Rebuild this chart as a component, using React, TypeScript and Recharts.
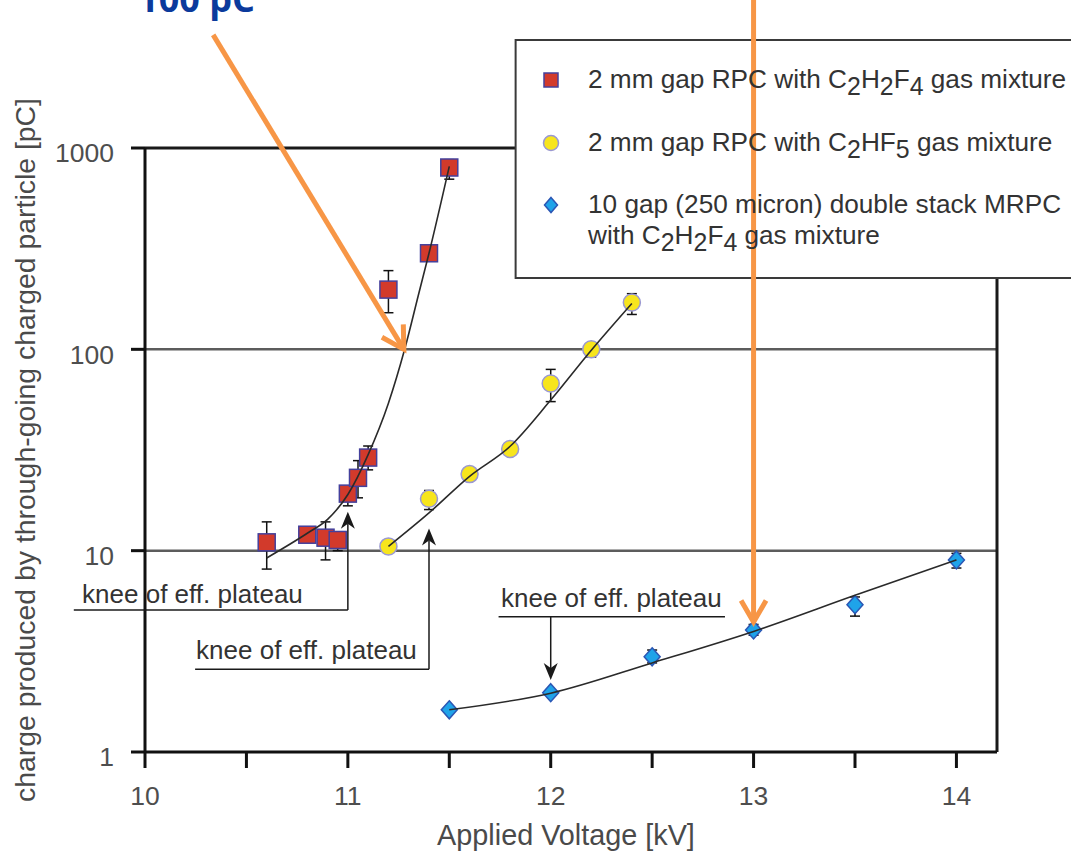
import React from 'react';
import {
  ComposedChart,
  Scatter,
  Line,
  XAxis,
  YAxis,
  ErrorBar,
  ReferenceLine,
  ReferenceArea,
  ReferenceDot,
  Legend,
} from 'recharts';

// ---------- data ----------
// 2 mm gap RPC, C2H2F4
const redVoltage = [10.6, 10.8, 10.89, 10.95, 11.0, 11.05, 11.1, 11.2, 11.4, 11.5];
const redCharge = [11, 12, 11.6, 11.3, 19.2, 23, 29, 198, 300, 800];
const redLow = [8.1, 12, 9.0, 10.0, 16.7, 18.3, 25.2, 152, 300, 700];
const redHigh = [13.9, 12, 13.9, 11.3, 19.2, 28, 33.1, 246, 300, 875];

// 2 mm gap RPC, C2HF5
const yellowVoltage = [11.2, 11.4, 11.6, 11.8, 12.0, 12.2, 12.4];
const yellowCharge = [10.5, 18.1, 24, 32, 67.7, 100, 171];
const yellowLow = [10.5, 16.0, 24, 32, 55, 91.6, 149];
const yellowHigh = [10.5, 19.9, 24, 32, 79.5, 107, 189];

// 10 gap double stack MRPC, C2H2F4
const blueVoltage = [11.5, 12.0, 12.5, 13.0, 13.5, 14.0];
const blueCharge = [1.62, 1.97, 2.97, 4.04, 5.39, 9.0];
const blueLow = [1.62, 1.97, 2.77, 3.8, 4.73, 8.2];
const blueHigh = [1.62, 1.97, 3.21, 4.3, 5.89, 9.7];

// fitted curves
const redFitVoltage = [10.6, 10.8, 10.9, 11.0, 11.1, 11.2, 11.28, 11.35, 11.4, 11.5];
const redFitCharge = [9.2, 12.2, 14.3, 19, 30, 54, 100, 190, 300, 810];
const yellowFitVoltage = [11.2, 11.4, 11.6, 11.8, 12.0, 12.2, 12.4];
const yellowFitCharge = [10.5, 15.4, 23.4, 33, 56, 99, 169];
const blueFitVoltage = [11.5, 12.0, 12.5, 13.0, 13.5, 14.0];
const blueFitCharge = [1.62, 1.96, 2.77, 3.97, 6.0, 9.0];

const seriesNames = [
  '2 mm gap RPC with C2H2F4 gas mixture',
  '2 mm gap RPC with C2HF5 gas mixture',
  '10 gap (250 micron) double stack MRPC\nwith C2H2F4 gas mixture',
];

// axes
const xTicks = [10, 10.5, 11, 11.5, 12, 12.5, 13, 13.5, 14];
const xTickLabels = ['10', '', '11', '', '12', '', '13', '', '14'];
const yTicks = [1, 10, 100, 1000];
const yTickLabels = ['1', '10', '100', '1000'];
const xTitle = 'Applied Voltage [kV]';
const yTitle = 'charge produced by through-going charged particle [pC]';

// annotations (data coordinates)
const kneeText = 'knee of eff. plateau';
const kneeNotes = [
  { lineFrom: 9.649, lineTo: 11.0, lineAt: 5.07, arrowX: 11.0, arrowTip: 15.6, textX: 9.69, textY: 5.5 },
  { lineFrom: 10.247, lineTo: 11.4, lineAt: 2.575, arrowX: 11.4, arrowTip: 12.9, textX: 10.252, textY: 2.9 },
  { lineFrom: 11.743, lineTo: 12.859, lineAt: 4.7, arrowX: 12.0, arrowTip: 2.28, textX: 11.755, textY: 5.25 },
];
const calloutArrows = [
  { fromX: 10.336, fromY: 3648, toX: 11.276, toY: 100 },
  { fromX: 13.0, fromY: 6000, toX: 13.0, toY: 4.42 },
];
const calloutLabel = { x: 10.254, y: 4750, text: '100 pC' };
const legendBox = { x1: 11.827, x2: 14.62, y1: 226, y2: 3437 };

// ---------- derived series ----------
const mk = (xs: number[], ys: number[], lo: number[], hi: number[]) =>
  xs.map((x, i) => ({ x, y: ys[i], err: [ys[i] - lo[i], hi[i] - ys[i]] }));
const mkLine = (xs: number[], ys: number[]) => xs.map((x, i) => ({ x, y: ys[i] }));

const redData = mk(redVoltage, redCharge, redLow, redHigh);
const yellowData = mk(yellowVoltage, yellowCharge, yellowLow, yellowHigh);
const blueData = mk(blueVoltage, blueCharge, blueLow, blueHigh);

const FONT = '"Liberation Sans", Arial, Helvetica, sans-serif';
const RED = '#d23a2b';
const RED_EDGE = '#44409c';
const YEL = '#f7e51d';
const YEL_EDGE = '#9a98d2';
const BLUE = '#1fa3e9';
const BLUE_EDGE = '#2b56b4';
const ORANGE = '#f79646';

// ---------- shapes ----------
const SquareShape = (p: any) => (
  <rect x={p.cx - 8.5} y={p.cy - 8.5} width={17} height={17} fill={RED} stroke={RED_EDGE} strokeWidth={1.5} />
);
const CircleShape = (p: any) => (
  <circle cx={p.cx} cy={p.cy} r={8.5} fill={YEL} stroke={YEL_EDGE} strokeWidth={1.5} />
);
const DiamondShape = (p: any) => (
  <polygon
    points={`${p.cx},${p.cy - 9} ${p.cx + 8},${p.cy} ${p.cx},${p.cy + 9} ${p.cx - 8},${p.cy}`}
    fill={BLUE}
    stroke={BLUE_EDGE}
    strokeWidth={1.5}
  />
);

const XTick = (props: any) => {
  const { x, y, payload } = props;
  const i = xTicks.indexOf(payload.value);
  const label = i >= 0 ? xTickLabels[i] : '';
  return (
    <text x={x} y={y} dy="0.71em" textAnchor="middle" fill="#4e4e4e" fontSize={26.5} fontFamily={FONT}>
      {label}
    </text>
  );
};

const YTick = (props: any) => {
  const { x, y, payload } = props;
  const i = yTicks.indexOf(payload.value);
  return (
    <text x={x} y={y + 5} dy="0.355em" textAnchor="end" fill="#4e4e4e" fontSize={26.5} fontFamily={FONT}>
      {i >= 0 ? yTickLabels[i] : ''}
    </text>
  );
};

const XTitle = (props: any) => {
  const vb = props.viewBox || { x: 145, y: 752, width: 852, height: 99 };
  return (
    <text x={vb.x + vb.width / 2 - 5} y={vb.y + 93} textAnchor="middle" fill="#4a4a4a" fontSize={28.8} fontFamily={FONT}>
      {xTitle}
    </text>
  );
};

const YTitle = (props: any) => {
  const vb = props.viewBox || { x: 0, y: 148, width: 145, height: 604 };
  const cx = vb.x + 35;
  const cy = vb.y + vb.height / 2;
  return (
    <text
      x={cx}
      y={cy}
      transform={`rotate(-90 ${cx} ${cy})`}
      textAnchor="middle"
      fill="#4a4a4a"
      fontSize={28.4}
      fontFamily={FONT}
    >
      {yTitle}
    </text>
  );
};

const PlainLine = (p: any) => (
  <line x1={p.x1} y1={p.y1} x2={p.x2} y2={p.y2} stroke={p.stroke} strokeWidth={p.strokeWidth} />
);

const BlackArrow = (p: any) => {
  const { x1, y1, x2, y2 } = p;
  const dx = x2 - x1;
  const dy = y2 - y1;
  const len = Math.hypot(dx, dy) || 1;
  const ux = dx / len;
  const uy = dy / len;
  const nx = -uy;
  const ny = ux;
  const L = 17;
  const W = 7;
  const notch = 12;
  const bx = x2 - ux * L;
  const by = y2 - uy * L;
  const mx = x2 - ux * notch;
  const my = y2 - uy * notch;
  return (
    <g>
      <line x1={x1} y1={y1} x2={mx} y2={my} stroke="#1a1a1a" strokeWidth={1.5} />
      <path
        d={`M${x2},${y2} L${bx + nx * W},${by + ny * W} L${mx},${my} L${bx - nx * W},${by - ny * W} Z`}
        fill="#1a1a1a"
      />
    </g>
  );
};

const OrangeArrow = (p: any) => {
  const { x1, y1, x2, y2 } = p;
  const dx = x2 - x1;
  const dy = y2 - y1;
  const len = Math.hypot(dx, dy) || 1;
  const bx = -dx / len;
  const by = -dy / len;
  const L = 25;
  const a = Math.PI / 6;
  const c = Math.cos(a);
  const s = Math.sin(a);
  const p1x = x2 + L * (bx * c - by * s);
  const p1y = y2 + L * (bx * s + by * c);
  const p2x = x2 + L * (bx * c + by * s);
  const p2y = y2 + L * (-bx * s + by * c);
  return (
    <g>
      <line x1={x1} y1={y1} x2={x2} y2={y2} stroke={ORANGE} strokeWidth={5} />
      <polyline
        points={`${p1x},${p1y} ${x2},${y2} ${p2x},${p2y}`}
        fill="none"
        stroke={ORANGE}
        strokeWidth={5}
        strokeLinejoin="miter"
      />
    </g>
  );
};

const makeTextShape = (text: string, opts: any) => (p: any) => (
  <text x={p.cx} y={p.cy} {...opts}>
    {text}
  </text>
);

function formula(line: string) {
  const out: React.ReactNode[] = [];
  let buf = '';
  for (let i = 0; i < line.length; i++) {
    const ch = line[i];
    if (/\d/.test(ch) && i > 0 && /[A-Z]/.test(line[i - 1])) {
      if (buf) out.push(<span key={`t${i}`}>{buf}</span>);
      buf = '';
      out.push(
        <span key={`s${i}`} style={{ fontSize: '0.95em', position: 'relative', top: '0.27em' }}>
          {ch}
        </span>
      );
    } else {
      buf += ch;
    }
  }
  if (buf) out.push(<span key="end">{buf}</span>);
  return out;
}

const LegendMarker = ({ kind }: { kind: number }) => (
  <svg width={20} height={20} style={{ display: 'block' }}>
    {kind === 0 && <rect x={3} y={3} width={14} height={14} fill={RED} stroke={RED_EDGE} strokeWidth={1.5} />}
    {kind === 1 && <circle cx={10} cy={10} r={7.5} fill={YEL} stroke={YEL_EDGE} strokeWidth={1.5} />}
    {kind === 2 && (
      <polygon points="10,2.5 16.5,10 10,17.5 3.5,10" fill={BLUE} stroke={BLUE_EDGE} strokeWidth={1.5} />
    )}
  </svg>
);

const legendRowTops = [24, 87, 149];

const LegendContent = () => (
  <div style={{ position: 'relative', width: 620, height: 238, fontFamily: FONT, fontSize: 26.2, color: '#333' }}>
    {seriesNames.map((name, k) => (
      <React.Fragment key={k}>
        <div style={{ position: 'absolute', left: 26, top: legendRowTops[k] + 15.5 - 10 }}>
          <LegendMarker kind={k} />
        </div>
        <div style={{ position: 'absolute', left: 73, top: legendRowTops[k], lineHeight: '31px', whiteSpace: 'nowrap' }}>
          {name.split('\n').map((ln, j) => (
            <div key={j}>{formula(ln)}</div>
          ))}
        </div>
      </React.Fragment>
    ))}
  </div>
);

export default function App() {
  return (
    <div style={{ position: 'absolute', left: 0, top: 0, width: 1071, height: 851, overflow: 'hidden', background: '#fff' }}>
      <ComposedChart width={1071} height={851} margin={{ top: 148, right: 74, bottom: 0, left: 0 }}>
        <XAxis
          type="number"
          dataKey="x"
          domain={[10, 14.2]}
          ticks={xTicks}
          interval={0}
          allowDataOverflow
          height={99}
          tickSize={16}
          tickMargin={18}
          axisLine={{ stroke: '#111', strokeWidth: 3 }}
          tickLine={{ stroke: '#111', strokeWidth: 3 }}
          tick={XTick}
          label={{ content: XTitle }}
        />
        <YAxis
          type="number"
          dataKey="y"
          scale="log"
          domain={[1, 1000]}
          ticks={yTicks}
          interval={0}
          allowDataOverflow
          width={145}
          tickSize={14}
          tickMargin={17}
          axisLine={{ stroke: '#111', strokeWidth: 3 }}
          tickLine={{ stroke: '#111', strokeWidth: 3 }}
          tick={YTick}
          label={{ content: YTitle }}
        />

        <ReferenceLine y={100} stroke="#5c5c5c" strokeWidth={2.5} zIndex={-50} />
        <ReferenceLine y={10} stroke="#5c5c5c" strokeWidth={2.5} zIndex={-50} />
        <ReferenceLine
          segment={[{ x: 10, y: 1000 }, { x: legendBox.x1, y: 1000 }]}
          stroke="#1a1a1a"
          strokeWidth={3}
          ifOverflow="visible"
          zIndex={-50}
        />
        <ReferenceLine
          segment={[{ x: 14.2, y: 1 }, { x: 14.2, y: legendBox.y1 }]}
          stroke="#1a1a1a"
          strokeWidth={3}
          ifOverflow="visible"
          zIndex={-50}
        />

        <ReferenceArea
          x1={legendBox.x1}
          x2={legendBox.x2}
          y1={legendBox.y1}
          y2={legendBox.y2}
          fill="#ffffff"
          fillOpacity={1}
          stroke="#3a3a3a"
          strokeWidth={2}
          ifOverflow="visible"
          zIndex={50}
        />

        <Scatter name={seriesNames[0]} data={redData} dataKey="y" shape={SquareShape} isAnimationActive={false}>
          <ErrorBar dataKey="err" direction="y" width={5} stroke="#111" strokeWidth={1.5} isAnimationActive={false} />
        </Scatter>
        <Scatter name={seriesNames[1]} data={yellowData} dataKey="y" shape={CircleShape} isAnimationActive={false}>
          <ErrorBar dataKey="err" direction="y" width={5} stroke="#111" strokeWidth={1.5} isAnimationActive={false} />
        </Scatter>
        <Scatter name={seriesNames[2]} data={blueData} dataKey="y" shape={DiamondShape} isAnimationActive={false}>
          <ErrorBar dataKey="err" direction="y" width={5} stroke="#111" strokeWidth={1.5} isAnimationActive={false} />
        </Scatter>

        <Line
          data={mkLine(redFitVoltage, redFitCharge)}
          dataKey="y"
          type="monotone"
          stroke="#2a2a2a"
          strokeWidth={1.6}
          dot={false}
          activeDot={false}
          legendType="none"
          isAnimationActive={false}
          zIndex={700}
        />
        <Line
          data={mkLine(yellowFitVoltage, yellowFitCharge)}
          dataKey="y"
          type="monotone"
          stroke="#2a2a2a"
          strokeWidth={1.6}
          dot={false}
          activeDot={false}
          legendType="none"
          isAnimationActive={false}
          zIndex={700}
        />
        <Line
          data={mkLine(blueFitVoltage, blueFitCharge)}
          dataKey="y"
          type="monotone"
          stroke="#2a2a2a"
          strokeWidth={1.6}
          dot={false}
          activeDot={false}
          legendType="none"
          isAnimationActive={false}
          zIndex={700}
        />

        {kneeNotes.map((k, i) => (
          <ReferenceLine
            key={`ku${i}`}
            segment={[{ x: k.lineFrom, y: k.lineAt }, { x: k.lineTo, y: k.lineAt }]}
            stroke="#1a1a1a"
            strokeWidth={1.5}
            ifOverflow="visible"
            shape={PlainLine}
            zIndex={800}
          />
        ))}
        {kneeNotes.map((k, i) => (
          <ReferenceLine
            key={`ka${i}`}
            segment={[{ x: k.arrowX, y: k.lineAt }, { x: k.arrowX, y: k.arrowTip }]}
            ifOverflow="visible"
            shape={BlackArrow}
            zIndex={800}
          />
        ))}
        {kneeNotes.map((k, i) => (
          <ReferenceDot
            key={`kt${i}`}
            x={k.textX}
            y={k.textY}
            r={0}
            ifOverflow="visible"
            zIndex={800}
            shape={makeTextShape(kneeText, {
              textAnchor: 'start',
              fill: '#333',
              fontSize: 26,
              fontFamily: FONT,
            })}
          />
        ))}

        {calloutArrows.map((a, i) => (
          <ReferenceLine
            key={`oa${i}`}
            segment={[{ x: a.fromX, y: a.fromY }, { x: a.toX, y: a.toY }]}
            ifOverflow="visible"
            shape={OrangeArrow}
            zIndex={2500}
          />
        ))}
        <ReferenceDot
          x={calloutLabel.x}
          y={calloutLabel.y}
          r={0}
          ifOverflow="visible"
          zIndex={2500}
          shape={makeTextShape(calloutLabel.text, {
            textAnchor: 'middle',
            fill: '#0b3a9c',
            fontSize: 36,
            fontWeight: 700,
            fontFamily: '"Open Sans", "Noto Sans", sans-serif',
          })}
        />

        <Legend
          layout="vertical"
          align="center"
          verticalAlign="middle"
          wrapperStyle={{ position: 'absolute', left: 515, top: 40, width: 620, height: 238, margin: 0, padding: 0 }}
          content={LegendContent}
        />
      </ComposedChart>
    </div>
  );
}
